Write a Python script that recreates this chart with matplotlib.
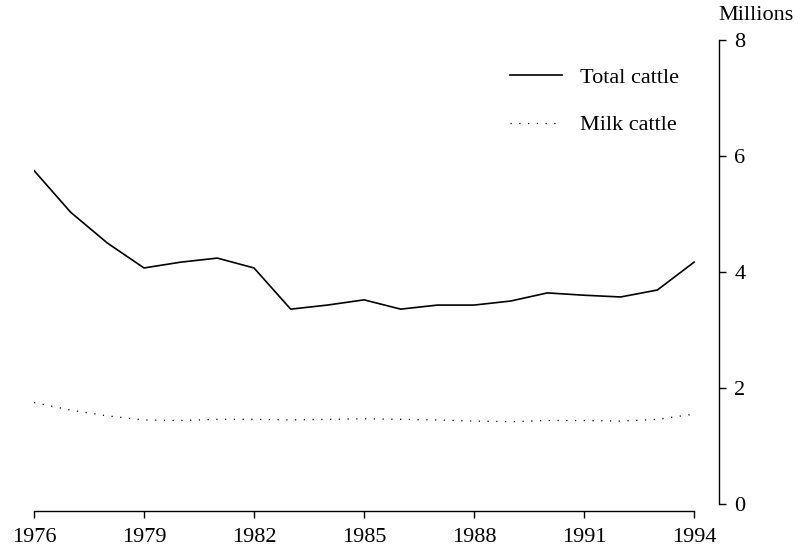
import matplotlib
matplotlib.use("Agg")
import matplotlib.pyplot as plt

years = list(range(1976, 1995))
total_cattle = [5.75, 5.03, 4.50, 4.07, 4.17, 4.24, 4.07, 3.36, 3.43, 3.52,
                3.36, 3.43, 3.43, 3.50, 3.64, 3.60, 3.57, 3.69, 4.17]
milk_cattle = [1.75, 1.62, 1.52, 1.45, 1.44, 1.46, 1.46, 1.45, 1.46, 1.47,
               1.46, 1.45, 1.43, 1.42, 1.44, 1.44, 1.43, 1.46, 1.55]
x_ticks = [1976, 1979, 1982, 1985, 1988, 1991, 1994]
y_ticks = [0, 2, 4, 6, 8]

plt.rcParams['font.family'] = ['Liberation Serif', 'DejaVu Serif']
fs = 16

fig = plt.figure(figsize=(8.02, 5.49), dpi=100)
ax = fig.add_axes([34 / 802, 1 - 511 / 549, (719 - 34) / 802, (511 - 40) / 549])

ax.plot(years, total_cattle, color='black', linewidth=1.2, label='Total cattle')
ax.plot(years, milk_cattle, color='black', linewidth=0.9,
        linestyle=(0, (1, 6)), label='Milk cattle')

ax.set_xlim(1976, 1994.68)
ax.set_ylim(-0.12, 8)

# spines: only bottom (years) and right (values)
ax.spines['top'].set_visible(False)
ax.spines['left'].set_visible(False)
ax.spines['bottom'].set_bounds(1976, 1994)
ax.spines['right'].set_bounds(0, 8)
for s in ('bottom', 'right'):
    ax.spines[s].set_linewidth(1.0)

ax.yaxis.tick_right()
ax.set_yticks(y_ticks)
ax.set_xticks(x_ticks)
ax.tick_params(axis='y', direction='out', length=5, width=1, pad=6, labelsize=fs)
ax.tick_params(axis='x', direction='out', length=5, width=1, pad=7, labelsize=fs)

fig.text(718 / 802, 1 - 15 / 549, 'Millions', ha='left', va='center', fontsize=fs)

ax.legend(loc='upper left', bbox_to_anchor=(510 / 802, 1 - 67 / 549),
          bbox_transform=fig.transFigure, frameon=False, fontsize=fs,
          handlelength=2.35, handletextpad=0.8, labelspacing=1.23,
          borderpad=0, borderaxespad=0)

fig.savefig('out.png', dpi=100)
